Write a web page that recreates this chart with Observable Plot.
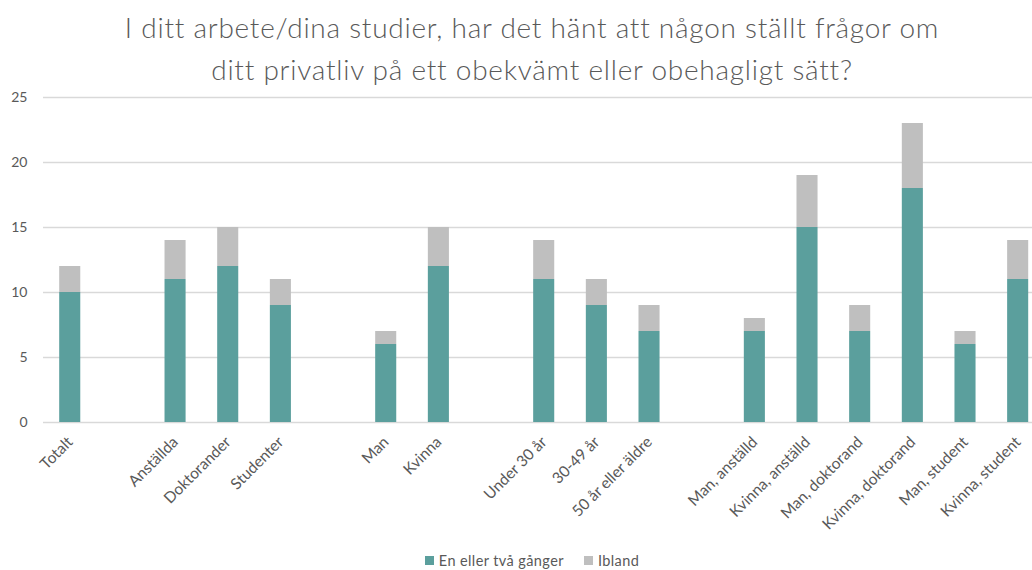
<!DOCTYPE html>
<html>
<head>
<meta charset="utf-8">
<script src="https://cdn.jsdelivr.net/npm/d3@7"></script>
<script src="https://cdn.jsdelivr.net/npm/@observablehq/plot@0.6"></script>
<style>
  html, body { margin: 0; padding: 0; background: #fff; }
  body { width: 1032px; height: 570px; overflow: hidden; position: relative; font-family: Lato, "Open Sans", sans-serif; color: #595959; }
  #title { position: absolute; left: 0; top: 6px; width: 1064px; text-align: center; font-size: 28px; font-weight: 300; letter-spacing: 0.75px; line-height: 42px; color: #595959; }
  #chart { position: absolute; left: 0; top: 86px; }
  #legend { position: absolute; left: 0; top: 552px; width: 1064px; display: flex; justify-content: center; gap: 20px; font-size: 14.5px; letter-spacing: 0.4px; color: #595959; }
  #legend span.item { display: inline-flex; align-items: center; gap: 5px; }
  #legend span.sw { width: 9px; height: 9px; display: inline-block; }
  svg { overflow: visible; }
</style>
</head>
<body>
<div id="title">I ditt arbete/dina studier, har det hänt att någon ställt frågor om<br>ditt privatliv på ett obekvämt eller obehagligt sätt?</div>
<div id="chart"></div>
<div id="legend"></div>
<script>
const categories = ["Totalt", null, "Anställda", "Doktorander", "Studenter", null, "Man", "Kvinna", null, "Under 30 år", "30-49 år", "50 år eller äldre", null, "Man, anställd", "Kvinna, anställd", "Man, doktorand", "Kvinna, doktorand", "Man, student", "Kvinna, student"];
const enEllerTva = [10, null, 11, 12, 9, null, 6, 12, null, 11, 9, 7, null, 7, 15, 7, 18, 6, 11];
const ibland =     [2, null, 3, 3, 2, null, 1, 3, null, 3, 2, 2, null, 1, 4, 2, 5, 1, 3];
const seriesNames = ["En eller två gånger", "Ibland"];
const seriesColors = ["#5B9F9D", "#BFBFBF"];
const yTicks = [0, 5, 10, 15, 20, 25];

const keys = categories.map((c, i) => c ?? `gap${i}`);
const data = [];
[enEllerTva, ibland].forEach((arr, s) => {
  arr.forEach((v, i) => {
    if (v != null) data.push({cat: keys[i], series: seriesNames[s], value: v});
  });
});

const chart = Plot.plot({
  width: 1032,
  height: 460,
  marginTop: 11,
  marginBottom: 124,
  marginLeft: 43,
  marginRight: 0,
  style: {fontFamily: "Lato, 'Open Sans', sans-serif", fontSize: "14px", color: "#595959", background: "transparent"},
  x: {domain: keys, range: [43.4, 1044], paddingInner: 0.6, paddingOuter: 0.3, align: 0.5, round: false, label: null},
  y: {domain: [0, 25], label: null},
  color: {domain: seriesNames, range: seriesColors},
  marks: [
    Plot.ruleY(yTicks, {stroke: "#d9d9d9", strokeWidth: 1.3}),
    Plot.barY(data, Plot.stackY({x: "cat", y: "value", fill: "series", order: seriesNames})),
    Plot.axisY(yTicks, {tickSize: 0, tickPadding: 16, label: null, fill: "#595959"}),
    Plot.axisX(keys.filter(k => !k.startsWith("gap")), {tickSize: 0, tickRotate: -45, tickPadding: 17, dx: 0, label: null, fill: "#595959", fontSize: 15.5, style: {letterSpacing: "0.8px"}})
  ]
});
document.getElementById("chart").appendChild(chart);

const legend = document.getElementById("legend");
seriesNames.forEach((n, i) => {
  const item = document.createElement("span");
  item.className = "item";
  const sw = document.createElement("span");
  sw.className = "sw";
  sw.style.background = seriesColors[i];
  item.appendChild(sw);
  item.appendChild(document.createTextNode(n));
  legend.appendChild(item);
});
</script>
</body>
</html>
